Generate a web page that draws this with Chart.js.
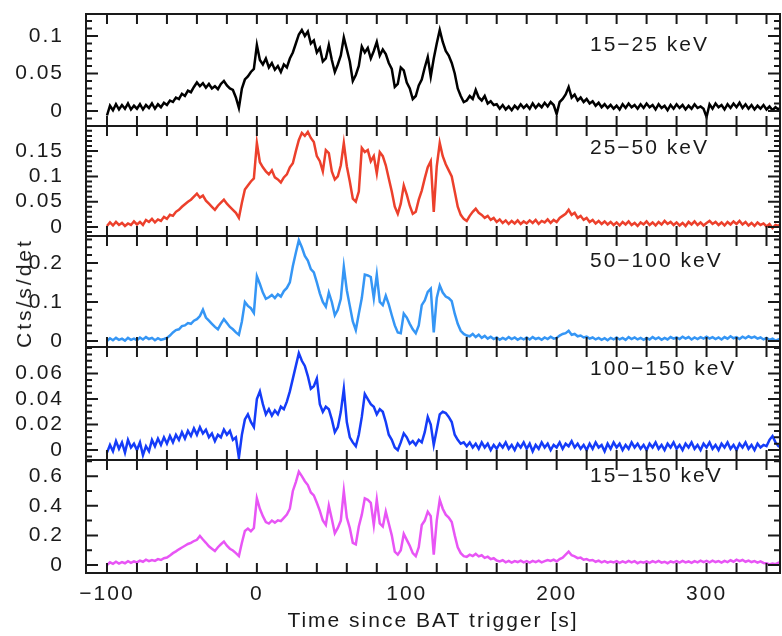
<!DOCTYPE html>
<html>
<head>
<meta charset="utf-8">
<title>BAT light curves</title>
<script src="https://cdn.jsdelivr.net/npm/chart.js@4.4.1/dist/chart.umd.min.js"></script>
<style>
  body { margin: 0; background: #fff; }
  #wrap { position: relative; width: 782px; height: 636px; overflow: hidden; }
  #wrap canvas { position: absolute; left: 0; }
  #ytitle {
    position: absolute; left: 24px; top: 293px;
    transform: translate(-50%, -50%) rotate(-90deg);
    font: 21px "Liberation Sans", Arial, sans-serif; letter-spacing: 3px;
    color: #1a1a1a; white-space: nowrap;
  }
</style>
</head>
<body>
<div id="wrap">
  <canvas id="band1"></canvas>
  <canvas id="band2"></canvas>
  <canvas id="band3"></canvas>
  <canvas id="band4"></canvas>
  <canvas id="band5"></canvas>
  <div id="ytitle">Cts/s/det</div>
</div>
<script>
// Light curves in 2 s bins, first bin at -100 s (one row = 20 s)
const binStart = -100;
const binWidth = 2;

const rate15to25 = [
  -0.006, 0.007, 0.001, 0.009, 0.002, 0.008, 0.003, 0.010, 0.002, 0.007,
  0.003, 0.009, 0.002, 0.008, 0.004, 0.010, 0.003, 0.009, 0.005, 0.011,
  0.008, 0.014, 0.012, 0.018, 0.016, 0.023, 0.020, 0.027, 0.025, 0.032,
  0.038, 0.033, 0.037, 0.031, 0.036, 0.030, 0.033, 0.029, 0.036, 0.040,
  0.034, 0.030, 0.028, 0.018, 0.004, 0.030, 0.042, 0.046, 0.052, 0.056,
  0.088, 0.068, 0.062, 0.070, 0.058, 0.064, 0.055, 0.060, 0.052, 0.062,
  0.058, 0.070, 0.078, 0.090, 0.102, 0.108, 0.100, 0.106, 0.090, 0.094,
  0.078, 0.084, 0.066, 0.070, 0.088, 0.068, 0.052, 0.062, 0.074, 0.098,
  0.082, 0.066, 0.040, 0.048, 0.060, 0.086, 0.078, 0.084, 0.070, 0.080,
  0.092, 0.074, 0.082, 0.076, 0.064, 0.056, 0.032, 0.036, 0.058, 0.054,
  0.038, 0.030, 0.016, 0.020, 0.034, 0.042, 0.058, 0.072, 0.046, 0.070,
  0.090, 0.108, 0.092, 0.080, 0.074, 0.064, 0.050, 0.030, 0.020, 0.012,
  0.014, 0.020, 0.016, 0.028, 0.018, 0.014, 0.020, 0.010, 0.013, 0.008,
  0.009, 0.003, 0.008, 0.002, 0.006, 0.001, 0.007, 0.003, 0.009, 0.004,
  0.008, 0.003, 0.010, 0.004, 0.009, 0.005, 0.011, 0.006, 0.012, 0.008,
  -0.004, 0.012, 0.016, 0.022, 0.032, 0.018, 0.022, 0.014, 0.018, 0.012,
  0.016, 0.010, 0.013, 0.007, 0.011, 0.005, 0.009, 0.004, 0.008, 0.003,
  0.007, 0.002, 0.009, 0.004, 0.010, 0.005, 0.008, 0.003, 0.009, 0.004,
  0.010, 0.005, 0.008, 0.002, 0.009, 0.004, 0.007, 0.001, 0.008, 0.003,
  0.009, 0.004, 0.008, 0.002, 0.007, 0.003, 0.009, 0.004, 0.006, 0.003,
  -0.008, 0.009, 0.003, 0.010, 0.005, 0.008, 0.002, 0.009, 0.004, 0.010,
  0.005, 0.011, 0.004, 0.009, 0.003, 0.008, 0.002, 0.007, 0.003, 0.008,
  0.002, 0.006, 0.001, 0.005, 0.002, 0.006
];

const rate25to50 = [
  0.002, 0.009, 0.003, 0.010, 0.004, 0.008, 0.002, 0.007, 0.004, 0.011,
  0.005, 0.010, 0.004, 0.014, 0.010, 0.016, 0.009, 0.015, 0.012, 0.020,
  0.016, 0.024, 0.022, 0.030, 0.034, 0.040, 0.045, 0.050, 0.054, 0.060,
  0.066, 0.058, 0.062, 0.052, 0.046, 0.040, 0.034, 0.042, 0.048, 0.054,
  0.046, 0.040, 0.034, 0.028, 0.018, 0.048, 0.074, 0.082, 0.090, 0.096,
  0.166, 0.128, 0.118, 0.110, 0.104, 0.112, 0.098, 0.094, 0.088, 0.098,
  0.104, 0.118, 0.126, 0.150, 0.172, 0.186, 0.180, 0.188, 0.176, 0.168,
  0.140, 0.130, 0.110, 0.152, 0.146, 0.110, 0.094, 0.100, 0.122, 0.166,
  0.120, 0.090, 0.056, 0.050, 0.070, 0.156, 0.148, 0.152, 0.130, 0.140,
  0.106, 0.148, 0.140, 0.122, 0.096, 0.070, 0.040, 0.026, 0.046, 0.082,
  0.064, 0.042, 0.026, 0.030, 0.054, 0.072, 0.096, 0.118, 0.130, 0.030,
  0.120, 0.166, 0.140, 0.124, 0.112, 0.100, 0.070, 0.040, 0.024, 0.016,
  0.012, 0.022, 0.030, 0.036, 0.028, 0.024, 0.018, 0.022, 0.014, 0.018,
  0.010, 0.015, 0.008, 0.013, 0.006, 0.012, 0.007, 0.013, 0.006, 0.011,
  0.007, 0.013, 0.008, 0.014, 0.006, 0.012, 0.009, 0.015, 0.008, 0.014,
  0.010, 0.018, 0.022, 0.026, 0.034, 0.024, 0.028, 0.018, 0.022, 0.014,
  0.018, 0.010, 0.014, 0.007, 0.012, 0.006, 0.011, 0.005, 0.010, 0.004,
  0.009, 0.003, 0.010, 0.005, 0.011, 0.004, 0.008, 0.002, 0.009, 0.005,
  0.011, 0.004, 0.009, 0.003, 0.010, 0.005, 0.012, 0.006, 0.010, 0.004,
  0.009, 0.003, 0.008, 0.002, 0.010, 0.005, 0.011, 0.004, 0.009, 0.003,
  0.008, 0.012, 0.006, 0.010, 0.004, 0.009, 0.003, 0.010, 0.005, 0.011,
  0.006, 0.012, 0.005, 0.010, 0.003, 0.008, 0.002, 0.009, 0.004, 0.007,
  0.001, 0.006, -0.002, 0.004, 0.002, 0.008
];

const rate50to100 = [
  0.000, 0.007, 0.002, 0.008, 0.003, 0.006, 0.001, 0.008, 0.003, 0.006,
  0.002, 0.009, 0.004, 0.010, 0.005, 0.008, 0.002, 0.007, 0.003, 0.005,
  0.008, 0.014, 0.022, 0.028, 0.030, 0.038, 0.040, 0.046, 0.044, 0.052,
  0.056, 0.064, 0.080, 0.060, 0.052, 0.044, 0.036, 0.030, 0.044, 0.056,
  0.046, 0.036, 0.030, 0.022, 0.016, 0.050, 0.100, 0.090, 0.084, 0.072,
  0.166, 0.146, 0.124, 0.108, 0.112, 0.118, 0.110, 0.120, 0.114, 0.128,
  0.136, 0.150, 0.192, 0.226, 0.258, 0.240, 0.218, 0.206, 0.184, 0.176,
  0.150, 0.122, 0.100, 0.088, 0.124, 0.100, 0.066, 0.080, 0.108, 0.190,
  0.130, 0.090, 0.050, 0.028, 0.070, 0.110, 0.170, 0.168, 0.164, 0.110,
  0.170, 0.100, 0.092, 0.116, 0.094, 0.066, 0.040, 0.022, 0.020, 0.070,
  0.060, 0.044, 0.030, 0.020, 0.040, 0.092, 0.104, 0.126, 0.134, 0.022,
  0.110, 0.142, 0.124, 0.114, 0.110, 0.102, 0.070, 0.044, 0.026, 0.018,
  0.014, 0.012, 0.018, 0.010, 0.016, 0.008, 0.013, 0.006, 0.011, 0.005,
  0.009, 0.003, 0.008, 0.004, 0.010, 0.005, 0.009, 0.003, 0.008, 0.004,
  0.009, 0.004, 0.010, 0.005, 0.008, 0.003, 0.009, 0.005, 0.011, 0.006,
  0.008, 0.014, 0.018, 0.020, 0.026, 0.016, 0.018, 0.012, 0.014, 0.009,
  0.011, 0.006, 0.009, 0.004, 0.008, 0.003, 0.007, 0.002, 0.008, 0.004,
  0.009, 0.004, 0.008, 0.003, 0.010, 0.005, 0.009, 0.004, 0.008, 0.003,
  0.008, 0.004, 0.010, 0.005, 0.009, 0.003, 0.008, 0.004, 0.010, 0.006,
  0.009, 0.005, 0.011, 0.006, 0.010, 0.004, 0.009, 0.005, 0.010, 0.006,
  0.011, 0.006, 0.010, 0.005, 0.009, 0.004, 0.010, 0.006, 0.012, 0.007,
  0.010, 0.005, 0.011, 0.007, 0.012, 0.008, 0.011, 0.006, 0.009, 0.004,
  0.008, 0.003, 0.006, 0.001, 0.004, 0.000
];

const rate100to150 = [
  -0.002, 0.004, -0.001, 0.007, 0.001, 0.006, -0.002, 0.008, 0.002, 0.005,
  0.000, 0.006, -0.004, 0.003, -0.001, 0.008, 0.003, 0.009, 0.004, 0.010,
  0.005, 0.011, 0.006, 0.012, 0.008, 0.014, 0.009, 0.015, 0.011, 0.017,
  0.012, 0.018, 0.013, 0.016, 0.010, 0.013, 0.007, 0.012, 0.010, 0.016,
  0.012, 0.015, 0.008, 0.010, -0.006, 0.012, 0.024, 0.028, 0.022, 0.018,
  0.040, 0.046, 0.036, 0.028, 0.032, 0.027, 0.031, 0.028, 0.034, 0.032,
  0.038, 0.046, 0.056, 0.066, 0.076, 0.070, 0.066, 0.058, 0.048, 0.050,
  0.056, 0.036, 0.030, 0.034, 0.032, 0.024, 0.014, 0.018, 0.030, 0.048,
  0.022, 0.010, 0.006, 0.003, 0.012, 0.026, 0.044, 0.040, 0.036, 0.034,
  0.028, 0.032, 0.030, 0.022, 0.012, 0.008, 0.002, 0.000, 0.006, 0.013,
  0.010, 0.005, 0.007, 0.004, 0.008, 0.006, 0.014, 0.026, 0.020, 0.004,
  0.016, 0.028, 0.030, 0.029, 0.026, 0.022, 0.012, 0.008, 0.005, 0.006,
  0.003, 0.006, 0.002, 0.005, 0.001, 0.006, 0.002, 0.005, 0.000, 0.004,
  0.001, 0.005, 0.002, 0.006, 0.001, 0.004, 0.000, 0.005, 0.002, 0.006,
  0.001, 0.005, -0.001, 0.004, 0.001, 0.006, 0.002, 0.005, 0.000, 0.004,
  0.002, 0.006, 0.001, 0.005, 0.003, 0.007, 0.002, 0.005, 0.001, 0.004,
  0.000, 0.005, 0.001, 0.006, 0.002, 0.004, -0.001, 0.005, 0.001, 0.006,
  0.002, 0.005, 0.000, 0.004, 0.001, 0.006, 0.002, 0.005, 0.001, 0.004,
  0.000, 0.005, 0.002, 0.006, 0.001, 0.004, 0.000, 0.005, 0.002, 0.006,
  0.001, 0.004, 0.000, 0.005, 0.002, 0.006, 0.001, 0.004, 0.000, 0.005,
  0.002, 0.006, 0.001, 0.004, 0.000, 0.005, 0.002, 0.006, 0.001, 0.004,
  0.000, 0.005, 0.002, 0.006, 0.001, 0.004, 0.000, 0.005, 0.002, 0.004,
  0.003, 0.008, 0.011, 0.006, 0.003, 0.002
];

const rate15to150 = [
  0.000, 0.018, 0.008, 0.022, 0.010, 0.020, 0.012, 0.026, 0.014, 0.024,
  0.018, 0.030, 0.022, 0.036, 0.026, 0.034, 0.028, 0.040, 0.034, 0.046,
  0.050, 0.064, 0.080, 0.092, 0.106, 0.118, 0.130, 0.142, 0.150, 0.162,
  0.170, 0.196, 0.172, 0.150, 0.126, 0.110, 0.094, 0.120, 0.140, 0.158,
  0.130, 0.110, 0.098, 0.080, 0.060, 0.150, 0.230, 0.246, 0.228, 0.250,
  0.450, 0.380, 0.330, 0.290, 0.280, 0.300, 0.286, 0.302, 0.296, 0.318,
  0.340, 0.380, 0.500, 0.560, 0.630, 0.600, 0.566, 0.540, 0.490, 0.470,
  0.420, 0.366, 0.300, 0.270, 0.400, 0.310, 0.214, 0.250, 0.300, 0.500,
  0.320, 0.250, 0.150, 0.140, 0.260, 0.340, 0.450, 0.440, 0.420, 0.270,
  0.440, 0.280, 0.260, 0.360, 0.280, 0.200, 0.090, 0.070, 0.100, 0.210,
  0.170, 0.130, 0.080, 0.060, 0.120, 0.270, 0.300, 0.360, 0.330, 0.070,
  0.300, 0.440, 0.380, 0.340, 0.320, 0.290, 0.200, 0.120, 0.080, 0.060,
  0.055, 0.070, 0.060, 0.075, 0.058, 0.066, 0.048, 0.056, 0.040, 0.046,
  0.030, 0.024, 0.032, 0.018, 0.028, 0.016, 0.026, 0.020, 0.030, 0.018,
  0.026, 0.016, 0.028, 0.020, 0.030, 0.018, 0.026, 0.034, 0.028, 0.036,
  0.024, 0.040, 0.050, 0.070, 0.090, 0.066, 0.058, 0.046, 0.050, 0.036,
  0.040, 0.030, 0.034, 0.022, 0.030, 0.018, 0.026, 0.016, 0.024, 0.018,
  0.026, 0.014, 0.024, 0.016, 0.028, 0.018, 0.026, 0.012, 0.022, 0.016,
  0.024, 0.014, 0.026, 0.018, 0.028, 0.016, 0.022, 0.012, 0.024, 0.018,
  0.026, 0.016, 0.028, 0.018, 0.024, 0.014, 0.026, 0.018, 0.030, 0.020,
  0.028, 0.018, 0.030, 0.020, 0.026, 0.016, 0.028, 0.020, 0.032, 0.022,
  0.036, 0.026, 0.034, 0.022, 0.030, 0.020, 0.026, 0.016, 0.024, 0.014,
  0.012, 0.004, 0.010, 0.006, 0.016, 0.020
];

const binTimes = rate15to25.map((_, i) => binStart + i * binWidth);

const bandLabels = ['15−25 keV', '25−50 keV', '50−100 keV', '100−150 keV', '15−150 keV'];
const bandColors = ['#000000', '#ec402c', '#3596f5', '#153cf8', '#e855f5'];
const xTickLabels = [-100, 0, 100, 200, 300];
const yTickLabels = [
  [0, 0.05, 0.1],
  [0, 0.05, 0.1, 0.15],
  [0, 0.1, 0.2],
  [0, 0.02, 0.04, 0.06],
  [0, 0.2, 0.4, 0.6]
];
const series = [rate15to25, rate25to50, rate50to100, rate100to150, rate15to150];

// panel placement on the page and axis ranges
const panels = [
  { top: 14,  bottom: 126, yMin: -0.02,   yMax: 0.1293, minor: 0.01,  labelDy: 31 },
  { top: 126, bottom: 236, yMin: -0.0178, yMax: 0.1996, minor: 0.01,  labelDy: 22 },
  { top: 236, bottom: 347, yMin: -0.0154, yMax: 0.269,  minor: 0.02,  labelDy: 25 },
  { top: 347, bottom: 460, yMin: -0.0078, yMax: 0.0808, minor: 0.005, labelDy: 22 },
  { top: 460, bottom: 573, yMin: -0.054,  yMax: 0.709,  minor: 0.1,   labelDy: 16 }
];

const INK = '#1a1a1a';
const FONT = '"Liberation Sans", Arial, sans-serif';

Chart.defaults.font.family = FONT;
Chart.defaults.font.size = 21;
Chart.defaults.color = INK;

// frame with inward tick marks on all four sides, plus the band label
const panelFrame = {
  id: 'panelFrame',
  beforeDraw(chart) {
    chart.ctx.letterSpacing = '2px';
  },
  afterDatasetsDraw(chart, args, opts) {
    const { ctx, chartArea: a, scales: { x, y } } = chart;
    ctx.save();
    ctx.strokeStyle = INK;
    ctx.lineWidth = 2;
    ctx.beginPath();
    for (let t = -100; t <= x.max; t += 20) {
      const px = x.getPixelForValue(t);
      ctx.moveTo(px, a.bottom); ctx.lineTo(px, a.bottom - 10);
      ctx.moveTo(px, a.top); ctx.lineTo(px, a.top + 10);
    }
    const kMin = Math.ceil(y.min / opts.minor - 1e-6);
    const kMax = Math.floor(y.max / opts.minor + 1e-6);
    for (let k = kMin; k <= kMax; k++) {
      const v = k * opts.minor;
      const isMajor = opts.majors.some(m => Math.abs(m - v) < 1e-6);
      const len = isMajor ? 12 : 6;
      const py = y.getPixelForValue(v);
      ctx.moveTo(a.left, py); ctx.lineTo(a.left + len, py);
      ctx.moveTo(a.right, py); ctx.lineTo(a.right - len, py);
    }
    ctx.stroke();
    ctx.strokeRect(a.left, a.top, a.right - a.left, a.bottom - a.top);

    ctx.fillStyle = INK;
    ctx.font = '21px ' + FONT;
    ctx.letterSpacing = '2px';
    ctx.textAlign = 'left';
    ctx.textBaseline = 'middle';
    ctx.fillText(opts.label, 590, a.top + opts.labelDy);
    ctx.restore();
  }
};

panels.forEach((p, i) => {
  const last = i === panels.length - 1;
  const canvas = document.getElementById('band' + (i + 1));
  const padTop = 4;
  const padBottom = last ? 0 : 4;
  const axisHeight = last ? 63 : 0;
  canvas.width = 782;
  canvas.height = p.bottom - p.top + padTop + padBottom + axisHeight;
  canvas.style.top = (p.top - padTop) + 'px';

  new Chart(canvas, {
    type: 'line',
    data: {
      datasets: [{
        label: bandLabels[i],
        data: series[i].map((v, k) => ({ x: binTimes[k], y: v })),
        borderColor: bandColors[i],
        borderWidth: 2.5,
        pointRadius: 0,
        tension: 0
      }]
    },
    options: {
      responsive: false,
      animation: false,
      events: [],
      layout: { padding: { top: padTop, bottom: padBottom, left: 0, right: 2 } },
      plugins: {
        legend: { display: false },
        tooltip: { enabled: false },
        panelFrame: { label: bandLabels[i], minor: p.minor, majors: yTickLabels[i], labelDy: p.labelDy }
      },
      scales: {
        x: {
          type: 'linear',
          min: -114,
          max: 349,
          display: last,
          grid: { display: false, drawTicks: false },
          border: { display: false },
          afterBuildTicks: s => { s.ticks = xTickLabels.map(v => ({ value: v })); },
          afterFit: s => {
            s.height = axisHeight;
            s.paddingLeft = 0;
            s.paddingRight = 0;
          },
          ticks: {
            padding: 9,
            maxRotation: 0,
            autoSkip: false,
            callback: v => (v < 0 ? '−' + Math.abs(v) : String(v))
          },
          title: {
            display: true,
            text: 'Time since BAT trigger [s]',
            padding: { top: 0, bottom: 2 }
          }
        },
        y: {
          min: p.yMin,
          max: p.yMax,
          grid: { display: false },
          border: { display: false },
          afterBuildTicks: s => { s.ticks = yTickLabels[i].map(v => ({ value: v })); },
          afterFit: s => {
            s.width = 86;
            s.paddingTop = 0;
            s.paddingBottom = 0;
          },
          ticks: {
            padding: 14,
            callback: v => String(+v.toFixed(3))
          }
        }
      }
    },
    plugins: [panelFrame]
  });
});
</script>
</body>
</html>
